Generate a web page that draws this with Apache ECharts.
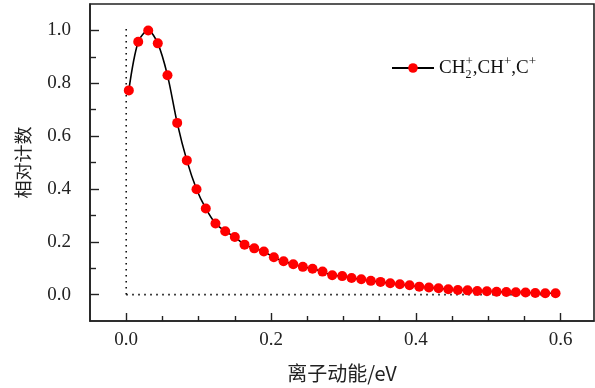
<!DOCTYPE html>
<html>
<head>
<meta charset="utf-8">
<script src="https://cdn.jsdelivr.net/npm/echarts@6/dist/echarts.min.js"></script>
<style>html,body{margin:0;padding:0;background:#fff}#c{width:595px;height:388px}</style>
</head>
<body>
<div id="c"></div>
<script>
// ---- data ----
const energy = [0.0036, 0.0166, 0.0304, 0.0436, 0.0570, 0.0704, 0.0837, 0.0971, 0.1099, 0.1233,
  0.1367, 0.1500, 0.1634, 0.1768, 0.1901, 0.2039, 0.2173, 0.2307, 0.2439, 0.2573,
  0.2711, 0.2845, 0.2983, 0.3112, 0.3246, 0.3378, 0.3512, 0.3646, 0.3779, 0.3913,
  0.4047, 0.4180, 0.4313, 0.4448, 0.4580, 0.4714, 0.4848, 0.4981, 0.5115, 0.5249,
  0.5381, 0.5515, 0.5649, 0.5787, 0.5929];
const counts = [0.773, 0.957, 1.000, 0.951, 0.830, 0.650, 0.508, 0.399, 0.326, 0.269,
  0.240, 0.218, 0.189, 0.175, 0.163, 0.141, 0.126, 0.115, 0.105, 0.098,
  0.087, 0.073, 0.070, 0.063, 0.058, 0.052, 0.048, 0.043, 0.039, 0.035,
  0.030, 0.0265, 0.024, 0.020, 0.0174, 0.016, 0.0136, 0.0125, 0.011, 0.0098,
  0.0087, 0.0076, 0.006, 0.005, 0.005];
const xMajorTicks = [0, 0.2, 0.4, 0.6];
const xMinorTicks = [0.05, 0.1, 0.15, 0.25, 0.3, 0.35, 0.45, 0.5, 0.55];
const yMajorTicks = [0, 0.2, 0.4, 0.6, 0.8, 1.0];
const yMinorTicks = [0.1, 0.3, 0.5, 0.7, 0.9];
const vGuide = [[0, 0], [0, 1.02]];
const hGuide = [[0, 0], [0.6, 0]];
const seriesName = 'CH2+,CH+,C+';
const xName = '离子动能/eV';
const yName = '相对计数';

const numFont = 'Liberation Serif';
const cjkFont = 'Noto Sans CJK SC';
const frame = '#222';
const xMin = -0.05, xMax = 0.646, yMin = -0.1, yMax = 1.1;

const chart = echarts.init(document.getElementById('c'));
const gridBox = {left: 90, top: 4, width: 504, height: 317};
const baseX = {type: 'value', min: xMin, max: xMax, splitLine: {show: false}, position: 'bottom'};
const baseY = {type: 'value', min: yMin, max: yMax, splitLine: {show: false}, position: 'left'};
chart.setOption({
  animation: false,
  grid: [
    Object.assign({show: true, borderColor: frame, borderWidth: 1.6, backgroundColor: 'transparent'}, gridBox),
    Object.assign({}, gridBox)
  ],
  legend: {
    left: 386, top: 50,
    itemWidth: 42, itemHeight: 12,
    data: [seriesName],
    formatter: () => 'CH{sb|2}{sp|+},CH{sp|+},C{sp|+}',
    textStyle: {
      fontFamily: numFont, fontSize: 19, color: '#111', lineHeight: 26,
      rich: {
        sb: {fontFamily: numFont, fontSize: 12, verticalAlign: 'bottom', lineHeight: 26, width: 0.1},
        sp: {fontFamily: numFont, fontSize: 13, verticalAlign: 'top', lineHeight: 26}
      }
    }
  },
  xAxis: [
    Object.assign({}, baseX, {
      gridIndex: 0,
      name: xName, nameLocation: 'middle', nameGap: 42,
      nameTextStyle: {fontFamily: cjkFont, fontSize: 20, color: '#222'},
      axisLine: {show: true, onZero: false, lineStyle: {color: frame, width: 1.6}},
      axisTick: {show: true, inside: true, length: 8, customValues: xMajorTicks, lineStyle: {color: frame, width: 1.4}},
      axisLabel: {customValues: xMajorTicks, margin: 10, fontFamily: numFont, fontSize: 19, color: '#222',
        formatter: v => v.toFixed(1)}
    }),
    Object.assign({}, baseX, {
      gridIndex: 1,
      axisLine: {show: false, onZero: false},
      axisTick: {show: true, inside: true, length: 5, customValues: xMinorTicks, lineStyle: {color: frame, width: 1.4}},
      axisLabel: {show: false}
    })
  ],
  yAxis: [
    Object.assign({}, baseY, {
      gridIndex: 0,
      name: yName, nameLocation: 'middle', nameGap: 58,
      nameTextStyle: {fontFamily: cjkFont, fontSize: 18, color: '#222'},
      axisLine: {show: true, onZero: false, lineStyle: {color: frame, width: 1.6}},
      axisTick: {show: true, inside: true, length: 9, customValues: yMajorTicks, lineStyle: {color: frame, width: 1.4}},
      axisLabel: {customValues: yMajorTicks, margin: 19, fontFamily: numFont, fontSize: 19, color: '#222',
        formatter: v => v.toFixed(1)}
    }),
    Object.assign({}, baseY, {
      gridIndex: 1,
      axisLine: {show: false, onZero: false},
      axisTick: {show: true, inside: true, length: 6, customValues: yMinorTicks, lineStyle: {color: frame, width: 1.4}},
      axisLabel: {show: false}
    })
  ],
  series: [
    {
      type: 'line', data: vGuide, symbol: 'none', silent: true, xAxisIndex: 0, yAxisIndex: 0,
      lineStyle: {color: '#111', width: 1.6, type: [1.6, 4.4]}
    },
    {
      type: 'line', data: hGuide, symbol: 'none', silent: true, xAxisIndex: 0, yAxisIndex: 0,
      lineStyle: {color: '#111', width: 1.6, type: [1.6, 4.4]}
    },
    {
      name: seriesName, type: 'line', xAxisIndex: 0, yAxisIndex: 0,
      data: energy.map((e, i) => [e, counts[i]]),
      smooth: 0.3,
      symbol: 'circle', symbolSize: 10,
      itemStyle: {color: '#ff0000', borderWidth: 0},
      lineStyle: {color: '#000', width: 1.6},
      z: 5
    }
  ]
});
</script>
</body>
</html>
